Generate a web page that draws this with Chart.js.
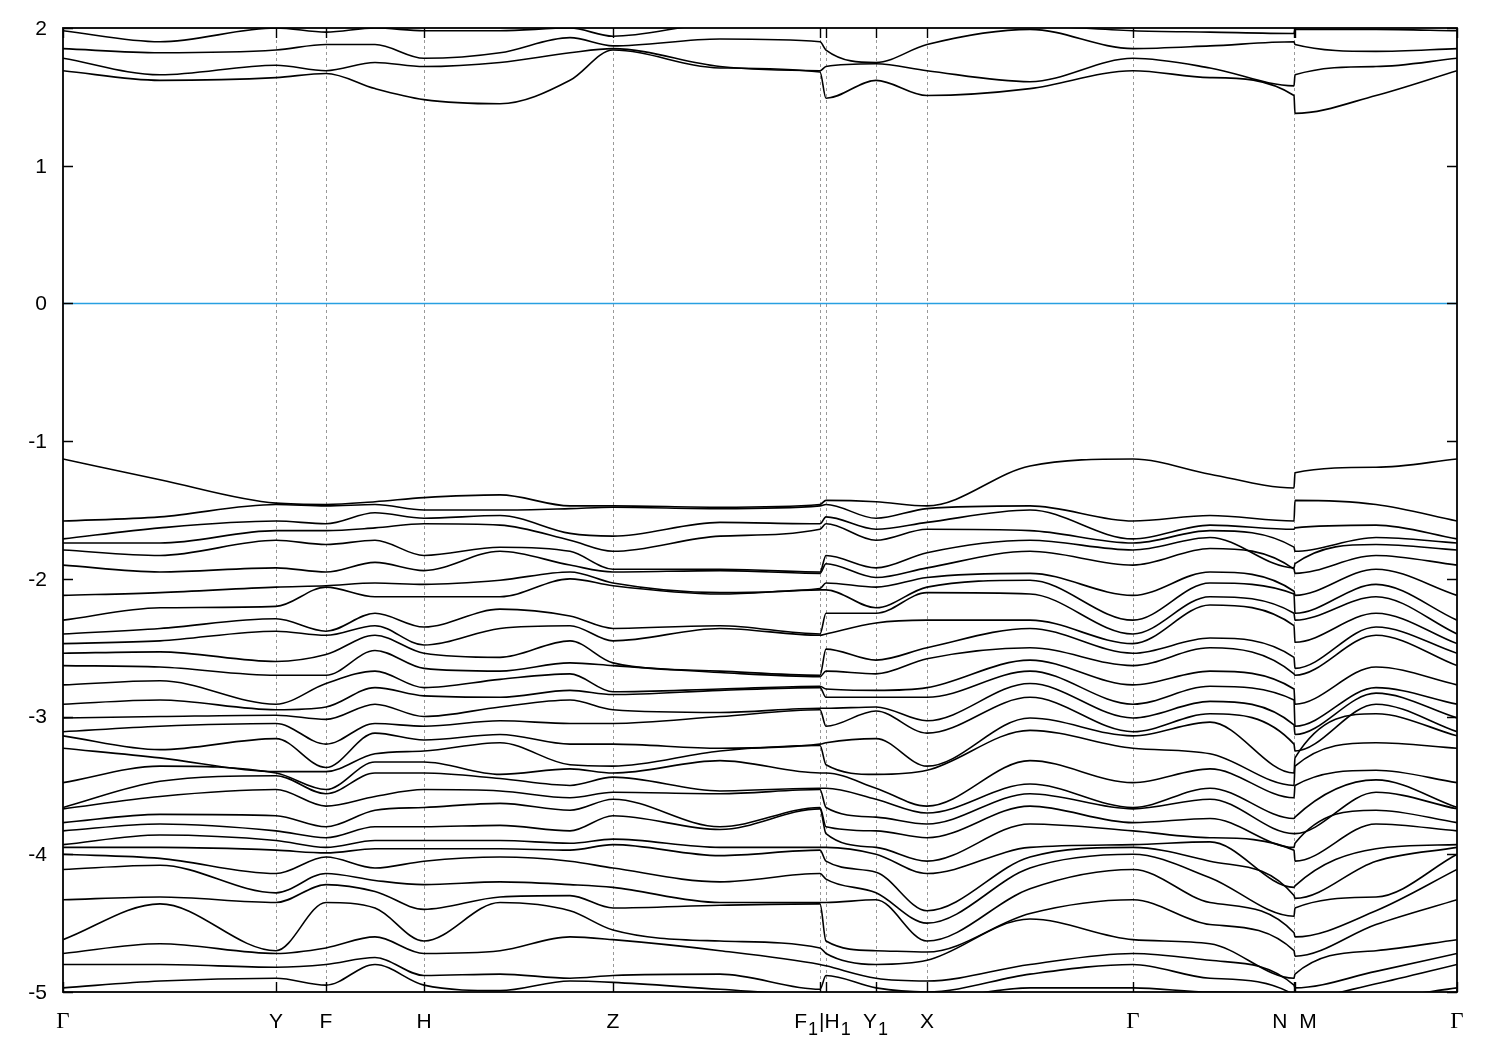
<!DOCTYPE html>
<html><head><meta charset="utf-8">
<script src="https://cdn.jsdelivr.net/npm/chart.js@4.4.1/dist/chart.umd.min.js"></script>
<style>html,body{margin:0;padding:0;background:#fff}canvas{display:block}</style>
</head><body>
<canvas id="c" width="1500" height="1050"></canvas>
<script>
// k-path sample positions (arbitrary path-distance units)
const kPath = [0, 97, 213, 263, 312, 361, 437, 507, 550, 657, 757, 763, 813, 864, 967, 1070, 1147, 1231, 1232, 1313, 1394];
// high-symmetry points and their labels
const symPos = [0, 213, 263, 361, 550, 757, 763, 813, 864, 1070, 1231, 1232, 1394];
const symLabels = ['Γ', 'Y', 'F', 'H', 'Z', 'F_1|H_1', '', 'Y_1', 'X', 'Γ', 'N  M', '', 'Γ'];
const yTickValues = [2, 1, 0, -1, -2, -3, -4, -5];
const fermiLevel = 0;

// valence band energies (eV) at each k sample, highest first
const E_Gamma = [-1.13,-1.58,-1.71,-1.74,-1.79,-1.90,-2.12,-2.30,-2.40,-2.47,-2.54,-2.63,-2.77,-2.91,-3.01,-3.11,-3.14,-3.23,-3.48,-3.66,-3.67,-3.77,-3.83,-3.93,-3.95,-4.00,-4.11,-4.33,-4.62,-4.72,-4.80,-4.97];
const E_GY = [-1.28,-1.55,-1.63,-1.74,-1.83,-1.95,-2.10,-2.21,-2.36,-2.45,-2.53,-2.64,-2.74,-2.88,-3.00,-3.07,-3.24,-3.30,-3.36,-3.47,-3.58,-3.71,-3.78,-3.86,-3.95,-4.03,-4.08,-4.31,-4.36,-4.65,-4.80,-4.92];
const E_Y = [-1.45,-1.46,-1.58,-1.65,-1.72,-1.92,-2.06,-2.20,-2.29,-2.38,-2.60,-2.70,-2.91,-2.95,-2.99,-3.05,-3.16,-3.40,-3.41,-3.43,-3.53,-3.72,-3.83,-3.90,-3.97,-4.14,-4.28,-4.35,-4.70,-4.72,-4.82,-4.90];
const E_F = [-1.46,-1.47,-1.60,-1.65,-1.75,-1.95,-2.05,-2.06,-2.38,-2.41,-2.55,-2.70,-2.76,-2.93,-3.02,-3.20,-3.37,-3.40,-3.53,-3.56,-3.65,-3.80,-3.88,-3.95,-3.99,-4.02,-4.14,-4.22,-4.35,-4.68,-4.80,-4.95];
const E_FH = [-1.44,-1.46,-1.52,-1.63,-1.72,-1.88,-2.03,-2.13,-2.25,-2.34,-2.41,-2.52,-2.67,-2.79,-2.91,-3.05,-3.12,-3.27,-3.33,-3.41,-3.58,-3.68,-3.80,-3.90,-3.96,-4.10,-4.19,-4.27,-4.39,-4.60,-4.75,-4.80];
const E_H = [-1.41,-1.50,-1.56,-1.60,-1.83,-1.94,-2.04,-2.13,-2.35,-2.48,-2.54,-2.65,-2.79,-2.85,-3.00,-3.07,-3.17,-3.25,-3.33,-3.41,-3.53,-3.66,-3.80,-3.90,-3.96,-4.05,-4.22,-4.40,-4.63,-4.72,-4.88,-4.95];
const E_HZa = [-1.39,-1.50,-1.54,-1.61,-1.77,-1.80,-2.01,-2.13,-2.22,-2.36,-2.57,-2.67,-2.73,-2.86,-2.93,-3.03,-3.13,-3.19,-3.42,-3.45,-3.54,-3.63,-3.79,-3.90,-3.96,-4.02,-4.20,-4.31,-4.35,-4.70,-4.87,-4.99];
const E_HZb = [-1.47,-1.49,-1.67,-1.72,-1.80,-1.90,-1.95,-2.00,-2.27,-2.34,-2.45,-2.61,-2.69,-2.81,-2.88,-3.05,-3.20,-3.35,-3.38,-3.50,-3.59,-3.68,-3.83,-3.92,-3.97,-4.05,-4.22,-4.30,-4.41,-4.60,-4.90,-4.92];
const E_Z = [-1.47,-1.48,-1.69,-1.80,-1.93,-1.95,-2.03,-2.05,-2.36,-2.45,-2.61,-2.63,-2.82,-2.84,-2.95,-3.05,-3.20,-3.36,-3.41,-3.44,-3.55,-3.60,-3.72,-3.89,-3.93,-4.10,-4.24,-4.39,-4.55,-4.62,-4.88,-4.93];
const E_ZF1 = [-1.48,-1.49,-1.59,-1.69,-1.93,-1.94,-2.10,-2.11,-2.34,-2.36,-2.67,-2.68,-2.80,-2.81,-2.97,-3.00,-3.23,-3.25,-3.32,-3.54,-3.56,-3.80,-3.82,-3.95,-4.01,-4.20,-4.35,-4.37,-4.63,-4.70,-4.87,-4.98];
const E_F1 = [-1.46,-1.47,-1.60,-1.64,-1.95,-1.96,-2.07,-2.08,-2.40,-2.41,-2.70,-2.71,-2.78,-2.79,-2.94,-2.95,-3.20,-3.21,-3.41,-3.52,-3.53,-3.66,-3.67,-3.95,-3.97,-4.14,-4.35,-4.36,-4.68,-4.80,-4.98,-5.02];
const E_H1 = [-1.43,-1.46,-1.55,-1.60,-1.83,-1.89,-2.03,-2.08,-2.25,-2.40,-2.51,-2.67,-2.80,-2.86,-2.94,-3.07,-3.19,-3.35,-3.41,-3.52,-3.66,-3.80,-3.85,-3.95,-4.05,-4.18,-4.35,-4.63,-4.72,-4.81,-4.88,-5.02];
const E_Y1 = [-1.44,-1.56,-1.64,-1.72,-1.92,-1.99,-2.06,-2.21,-2.25,-2.32,-2.59,-2.69,-2.81,-2.86,-2.93,-2.96,-3.16,-3.42,-3.52,-3.60,-3.73,-3.83,-3.95,-4.00,-4.13,-4.28,-4.33,-4.70,-4.80,-4.90,-4.97,-5.05];
const E_X = [-1.47,-1.49,-1.59,-1.64,-1.81,-1.92,-1.99,-2.06,-2.10,-2.30,-2.50,-2.58,-2.79,-2.86,-3.03,-3.12,-3.36,-3.39,-3.65,-3.70,-3.78,-3.88,-4.05,-4.14,-4.41,-4.50,-4.63,-4.71,-4.77,-4.92,-5.00,-5.05];
const E_XG = [-1.18,-1.47,-1.50,-1.65,-1.72,-1.80,-1.96,-2.01,-2.11,-2.30,-2.36,-2.50,-2.59,-2.67,-2.76,-2.86,-3.01,-3.10,-3.32,-3.49,-3.56,-3.65,-3.78,-3.95,-4.02,-4.10,-4.25,-4.43,-4.47,-4.80,-4.87,-4.97];
const E_GN = [-1.24,-1.54,-1.61,-1.65,-1.70,-1.78,-1.95,-2.03,-2.13,-2.19,-2.43,-2.50,-2.67,-2.78,-2.89,-2.98,-3.04,-3.27,-3.38,-3.52,-3.60,-3.74,-3.88,-3.91,-4.05,-4.17,-4.35,-4.51,-4.65,-4.77,-4.90,-5.00];
const E_N = [-1.34,-1.58,-1.64,-1.77,-1.92,-1.93,-2.09,-2.11,-2.25,-2.34,-2.57,-2.69,-2.80,-2.88,-3.06,-3.20,-3.41,-3.50,-3.59,-3.74,-3.85,-3.95,-3.97,-4.24,-4.30,-4.45,-4.57,-4.70,-4.90,-4.95,-5.02,-5.06];
const E_M = [-1.23,-1.43,-1.63,-1.80,-1.89,-1.96,-2.12,-2.25,-2.30,-2.46,-2.65,-2.70,-2.91,-3.07,-3.13,-3.25,-3.30,-3.36,-3.50,-3.73,-3.85,-3.92,-4.05,-4.23,-4.32,-4.39,-4.60,-4.74,-4.87,-4.97,-5.05,-5.10];
const E_MG = [-1.19,-1.46,-1.61,-1.70,-1.75,-1.83,-1.93,-2.04,-2.13,-2.25,-2.35,-2.41,-2.64,-2.79,-2.83,-2.91,-2.98,-3.19,-3.39,-3.46,-3.55,-3.68,-3.78,-3.96,-4.05,-4.31,-4.41,-4.51,-4.70,-4.85,-4.94,-5.05];

// conduction bands (eV) along kPath
const cond1 = [1.69,1.62,1.64,1.67,1.56,1.48,1.45,1.62,1.84,1.71,1.68,1.49,1.62,1.51,1.56,1.69,1.64,1.51,1.38,1.51,1.69];
const cond2 = [1.78,1.66,1.73,1.69,1.75,1.72,1.75,1.82,1.85,1.72,1.69,1.72,1.74,1.69,1.61,1.78,1.71,1.58,1.66,1.72,1.78];
const cond3 = [1.85,1.82,1.84,1.88,1.88,1.78,1.82,1.93,1.87,1.92,1.90,1.84,1.75,1.88,1.99,1.85,1.87,1.90,1.88,1.83,1.85];
const cond4 = [1.98,1.90,2.00,1.97,2.00,1.98,1.98,2.00,1.94,2.03,2.03,2.03,2.03,2.03,2.02,1.98,1.97,1.96,1.99,1.99,1.98];

const valenceColumns = [E_Gamma, E_GY, E_Y, E_F, E_FH, E_H, E_HZa, E_HZb, E_Z, E_ZF1, E_F1, E_H1, E_Y1, E_X, E_XG, E_Gamma, E_GN, E_N, E_M, E_MG, E_Gamma];
const conductionBands = [cond1, cond2, cond3, cond4];

const bandStyle = {borderColor: '#000', borderWidth: 1.6, pointRadius: 0, fill: false, cubicInterpolationMode: 'monotone'};
const datasets = [];
const nVal = E_Gamma.length;
for (let b = 0; b < nVal; b++) {
  datasets.push(Object.assign({label: 'VB' + (b + 1), data: kPath.map((k, i) => ({x: k, y: valenceColumns[i][b]}))}, bandStyle));
}
conductionBands.forEach((arr, b) => {
  datasets.push(Object.assign({label: 'CB' + (b + 1), data: kPath.map((k, i) => ({x: k, y: arr[i]}))}, bandStyle));
});
datasets.push({label: 'EF', data: [{x: kPath[0], y: fermiLevel}, {x: kPath[kPath.length - 1], y: fermiLevel}],
  borderColor: 'rgb(40,160,225)', borderWidth: 1.5, pointRadius: 0, fill: false, tension: 0});

const SANS = '"Liberation Sans", Arial, Helvetica, sans-serif';
const SERIF = '"Liberation Serif", "Times New Roman", serif';

function parseLabel(s) {
  const parts = [];
  let buf = '';
  for (let i = 0; i < s.length; i++) {
    if (s[i] === '_' && i + 1 < s.length) {
      if (buf) { parts.push({t: buf, sub: false}); buf = ''; }
      parts.push({t: s[i + 1], sub: true}); i++;
    } else buf += s[i];
  }
  if (buf) parts.push({t: buf, sub: false});
  return parts;
}
function partFont(p) {
  if (p.sub) return '18px ' + SANS;
  if (p.t === 'Γ') return '23px ' + SERIF;
  return '21px ' + SANS;
}

const framePlugin = {
  id: 'framePlugin',
  beforeDatasetsDraw(chart) {
    const {ctx, chartArea: a, scales: {x}} = chart;
    ctx.save();
    ctx.strokeStyle = '#999';
    ctx.lineWidth = 1;
    ctx.setLineDash([3, 3]);
    const seen = new Set();
    symPos.forEach((k, i) => {
      if (i === 0 || i === symPos.length - 1) return;
      const px = Math.round(x.getPixelForValue(k)) + 0.5;
      if (seen.has(Math.round(px)) || seen.has(Math.round(px) - 1)) return;
      seen.add(Math.round(px));
      ctx.beginPath(); ctx.moveTo(px, a.top); ctx.lineTo(px, a.bottom); ctx.stroke();
    });
    ctx.restore();
  },
  afterDatasetsDraw(chart) {
    const {ctx, chartArea: a, scales: {x, y}} = chart;
    ctx.save();
    ctx.strokeStyle = '#000';
    ctx.lineWidth = 1.8;
    ctx.setLineDash([]);
    ctx.strokeRect(a.left, a.top, a.right - a.left, a.bottom - a.top);
    const tl = 10;
    ctx.lineWidth = 1.4;
    symPos.forEach(k => {
      const px = Math.round(x.getPixelForValue(k)) + 0.5;
      ctx.beginPath();
      ctx.moveTo(px, a.bottom); ctx.lineTo(px, a.bottom - tl);
      ctx.moveTo(px, a.top); ctx.lineTo(px, a.top + tl);
      ctx.stroke();
    });
    yTickValues.forEach(v => {
      const py = Math.round(y.getPixelForValue(v)) + 0.5;
      ctx.beginPath();
      ctx.moveTo(a.left, py); ctx.lineTo(a.left + tl, py);
      ctx.moveTo(a.right, py); ctx.lineTo(a.right - tl, py);
      ctx.stroke();
    });
    // y tick labels
    ctx.fillStyle = '#000';
    ctx.font = '21px ' + SANS;
    ctx.textAlign = 'right';
    ctx.textBaseline = 'middle';
    yTickValues.forEach(v => {
      ctx.fillText(String(v), a.left - 16, y.getPixelForValue(v) + 1);
    });
    // x tick labels
    ctx.textAlign = 'left';
    ctx.textBaseline = 'alphabetic';
    const baseY = a.bottom + 36;
    symLabels.forEach((lab, i) => {
      if (!lab) return;
      let cx = x.getPixelForValue(symPos[i]);
      if (i + 1 < symLabels.length && symLabels[i + 1] === '') {
        cx = (cx + x.getPixelForValue(symPos[i + 1])) / 2;
      }
      const parts = parseLabel(lab);
      let w = 0;
      parts.forEach(p => { ctx.font = partFont(p); p.w = ctx.measureText(p.t).width + (p.sub ? 2 : 0); w += p.w; });
      let sx = cx - w / 2;
      parts.forEach(p => {
        ctx.font = partFont(p);
        ctx.fillText(p.t, sx + (p.sub ? 1 : 0), p.sub ? baseY + 7 : baseY);
        sx += p.w;
      });
    });
    ctx.restore();
  }
};

new Chart(document.getElementById('c'), {
  type: 'line',
  data: {datasets},
  options: {
    responsive: false,
    animation: false,
    devicePixelRatio: 1,
    events: [],
    layout: {padding: {left: 63, right: 43, top: 28, bottom: 58}},
    plugins: {legend: {display: false}, tooltip: {enabled: false}, title: {display: false}},
    scales: {
      x: {type: 'linear', min: 0, max: 1394, display: false},
      y: {type: 'linear', min: -5, max: 2, display: false}
    }
  },
  plugins: [framePlugin]
});
</script>
</body></html>
